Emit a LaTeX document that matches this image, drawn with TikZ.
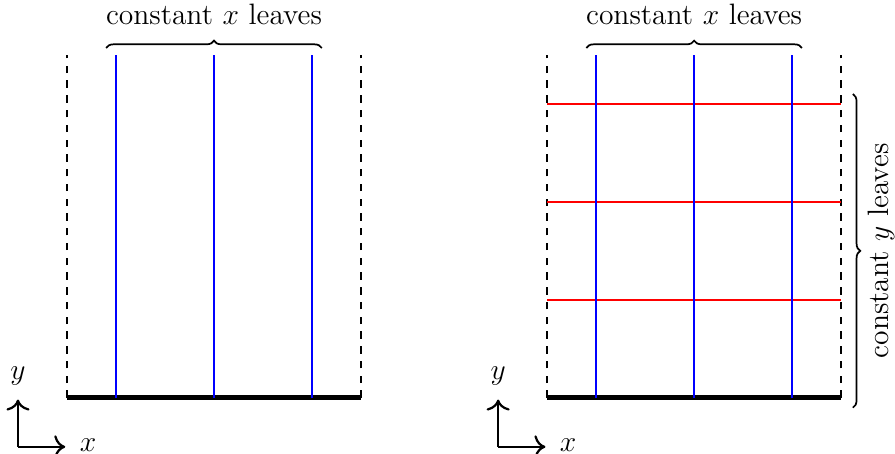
\documentclass[12pt,tikz,border=0pt]{standalone}
\usepackage{amsmath}
\usepackage{tikz}
\usetikzlibrary{arrows.meta, positioning, decorations.pathreplacing, calc}

\begin{document}
\begin{tikzpicture}[
    x=0.7cm, y=0.7cm,
    wall/.style={dashed, line width=0.9pt},
    floor/.style={line width=2pt},
    xleaf/.style={blue, line width=0.9pt},
    yleaf/.style={red, line width=0.9pt},
    brace/.style={decorate, decoration={brace, amplitude=3pt}, line width=0.7pt},
    axis/.style={-{To[scale=1.25]}, line width=0.9pt},
    axlabel/.style={inner sep=0pt}
]
\useasboundingbox (-1.367,-1.143) rectangle (16.9,8.12);

% Left panel: walls and floor
\coordinate (lwl0) at (0,0);
\coordinate (lwl1) at (0,7);
\coordinate (lwr0) at (6,0);
\coordinate (lwr1) at (6,7);
\draw[wall] (lwl0) -- (lwl1);
\draw[wall] (lwr0) -- (lwr1);
\draw[floor] (lwl0) -- (lwr0);

% Left panel: constant x leaves
\foreach \i/\x in {1/1, 2/3, 3/5} {
  \coordinate (lb\i) at (\x,0);
  \coordinate (lt\i) at (\x,7);
  \draw[xleaf] (lb\i) -- (lt\i);
}
\coordinate (lbr0) at (0.8,7.14);
\coordinate (lbr1) at (5.2,7.14);
\draw[brace] (lbr0) -- node[above=5pt] (lxlab) {constant $x$ leaves} (lbr1);

% Left axes
\coordinate (lax) at (-1,-1);
\node[inner sep=0pt] (lay) at (-1,0) {};
\node[inner sep=0pt] (lax1) at (0,-1) {};
\draw[axis] (lax) -- (lay);
\draw[axis] (lax) -- (lax1);
\node[axlabel, above=4.8pt] (laylab) at (lay) {$y$};
\node[axlabel, right=5pt, yshift=0.8pt] (laxlab) at (lax1) {$x$};

% Right panel: walls and floor
\coordinate (rwl0) at (9.8,0);
\coordinate (rwl1) at (9.8,7);
\coordinate (rwr0) at (15.8,0);
\coordinate (rwr1) at (15.8,7);
\draw[wall] (rwl0) -- (rwl1);
\draw[wall] (rwr0) -- (rwr1);
\draw[floor] (rwl0) -- (rwr0);

% Right panel: constant y leaves
\foreach \j/\y in {1/2, 2/4, 3/6} {
  \coordinate (rl\j) at (9.8,\y);
  \coordinate (rr\j) at (15.8,\y);
  \draw[yleaf] (rl\j) -- (rr\j);
}

% Right panel: constant x leaves
\foreach \i/\x in {1/10.8, 2/12.8, 3/14.8} {
  \coordinate (rb\i) at (\x,0);
  \coordinate (rt\i) at (\x,7);
  \draw[xleaf] (rb\i) -- (rt\i);
}
\coordinate (rbr0) at (10.6,7.14);
\coordinate (rbr1) at (15.0,7.14);
\draw[brace] (rbr0) -- node[above=5pt] (rxlab) {constant $x$ leaves} (rbr1);

\coordinate (rbs0) at (16.04,6.2);
\coordinate (rbs1) at (16.04,-0.2);
\draw[brace] (rbs0) -- (rbs1);
\node[anchor=north, rotate=90, inner sep=1pt] (rylab) at ($(rbs0)!0.5!(rbs1)+(5pt,0)$) {constant $y$ leaves};

% Right axes
\coordinate (rax) at (8.8,-1);
\node[inner sep=0pt] (ray) at (8.8,0) {};
\node[inner sep=0pt] (rax1) at (9.8,-1) {};
\draw[axis] (rax) -- (ray);
\draw[axis] (rax) -- (rax1);
\node[axlabel, above=4.8pt] (raylab) at (ray) {$y$};
\node[axlabel, right=5pt, yshift=0.8pt] (raxlab) at (rax1) {$x$};

\end{tikzpicture}
\end{document}
